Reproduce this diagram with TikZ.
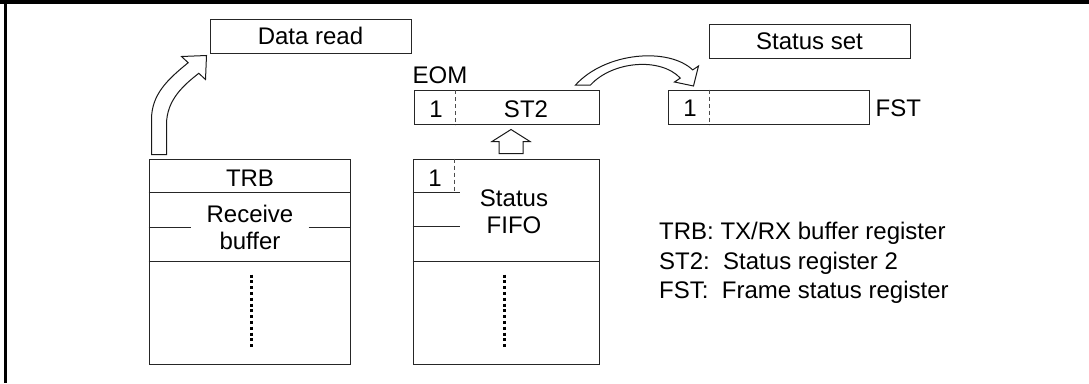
\documentclass[tikz,border=0pt]{standalone}
\usepackage{fontspec}
\setmainfont{Liberation Sans}
\usetikzlibrary{positioning,calc}

\begin{document}
\begin{tikzpicture}[x=1pt, y=-1pt,
  box/.style={draw=black!85, line width=1pt, inner sep=0pt, minimum height=34pt, font=\fontsize{24}{27}\selectfont},
  txt/.style={inner sep=0pt, align=center, font=\fontsize{24}{27}\selectfont},
  lgd/.style={inner sep=0pt, anchor=base west, font=\fontsize{24}{27}\selectfont},
  rule/.style={draw=black!85, line width=1pt},
  cellsep/.style={draw=black!70, line width=0.9pt, dash pattern=on 4pt off 3pt},
  fifodots/.style={line width=3pt, dash pattern=on 3pt off 2.8pt},
  hollow/.style={draw=black!90, line width=1pt, fill=white, line join=miter},
  outerline/.style={line width=4pt}]
\useasboundingbox (0,0) rectangle (1089,383);
\draw[outerline] (0,2) -- (1089,2);
\draw[outerline, line width=3.4pt] (5.6,0) -- (5.6,383);

\node[box, minimum width=201pt] (dread) at (310.5,36) {Data read};
\node[box, minimum width=201pt] (sset) at (809.5,41) {Status set};
\node[box, minimum width=185pt] (st2) at (506.5,107.5) {};
\node[box, minimum width=201pt] (fst) at (768.5,107) {};
\node[box, minimum width=201pt, minimum height=205pt] (trb) at (249.5,261.5) {};
\node[box, minimum width=186pt, minimum height=205pt] (fifo) at (506,261.5) {};

\node[txt] (eombit) at (436,109.5) {1};
\node[txt] (st2name) at (526,109.5) {ST2};
\node[lgd] (eom) at ($(st2.north west)+(-1,-7)$) {EOM};
\node[txt] (fstbit) at (690,108.5) {1};
\node[txt, right=6pt of fst, yshift=-1.5pt] (fstname) {FST};
\node[txt] (trbname) at (250,178) {TRB};
\node[txt, inner xsep=15pt] (rbuf) at (250,227) {Receive\\buffer};
\node[txt] (fifobit) at (435,178) {1};
\node[txt] (sfifo) at (514,211.5) {Status\\FIFO};

\draw[cellsep] ($(st2.north west)+(42,0)$) -- ($(st2.south west)+(42,0)$);
\draw[cellsep] ($(fst.north west)+(42,0)$) -- ($(fst.south west)+(42,0)$);
\draw[cellsep] ($(fifo.north west)+(42,0)$) -- ($(fifo.north west)+(42,34)$);

\draw[rule] ($(trb.north west)+(0,34)$) -- ($(trb.north east)+(0,34)$);
\draw[rule] (trb.west |- rbuf) -- (rbuf.west);
\draw[rule] (rbuf.east) -- (trb.east |- rbuf);
\draw[rule] ($(trb.north west)+(0,103)$) -- ($(trb.north east)+(0,103)$);
\draw[fifodots] ($(trb.north)+(1.5,116)$) -- ($(trb.north)+(1.5,191)$);

\draw[rule] ($(fifo.north west)+(0,34)$) -- ($(fifo.north west)+(47,34)$);
\draw[rule] ($(fifo.north west)+(0,68)$) -- ($(fifo.north west)+(47,68)$);
\draw[rule] ($(fifo.north west)+(0,103)$) -- ($(fifo.north east)+(0,103)$);
\draw[fifodots] ($(fifo.north)+(-2,116)$) -- ($(fifo.north)+(-2,191)$);

\begin{scope}[shift={(trb.north west)}]
\draw[hollow] (3,-4) -- (3,-39) .. controls (3,-64) and (19,-79) .. (39.7,-95.8)
  -- (33,-102) -- (58,-103) -- (57,-79) -- (50.3,-85.2)
  .. controls (36,-74) and (18,-59) .. (18,-34) -- (18,-4) -- cycle;
\end{scope}
\begin{scope}[shift={(st2.north east)}]
\draw[hollow] (-24,-5) .. controls (6,-38) and (69,-43) .. (93.2,-20.1)
  -- (99,-24) -- (94,-4) -- (75,-8) -- (80.8,-11.9)
  .. controls (61,-33) and (13,-29) .. (-9,-5) -- cycle;
\end{scope}
\begin{scope}[shift={(fifo.north)}]
\draw[hollow] (-7,-5) -- (-7,-17) -- (-14,-17) -- (5,-29) -- (24,-17) -- (17,-17) -- (17,-5) -- cycle;
\end{scope}

\node[lgd] (leg1) at (659,239) {TRB: TX/RX buffer register};
\node[lgd] (leg2) at (659,269) {ST2:\ \ Status register 2};
\node[lgd] (leg3) at (659,298) {FST:\ \ Frame status register};
\end{tikzpicture}
\end{document}
